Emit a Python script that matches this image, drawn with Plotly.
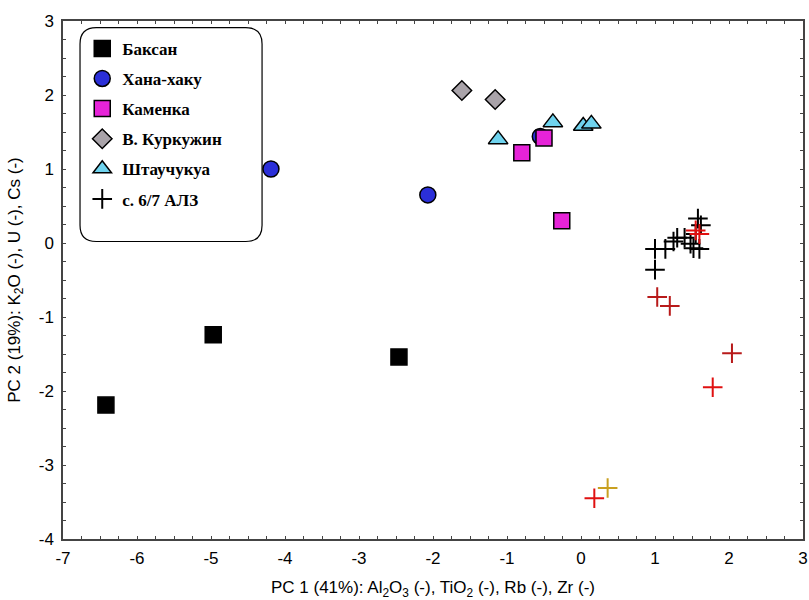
import plotly.graph_objects as go

# ---- data ----
baksan_x = [-6.42, -4.97, -2.46]
baksan_y = [-2.19, -1.24, -1.54]

khana_x = [-4.19, -2.07, -0.55]
khana_y = [1.00, 0.65, 1.44]

kamenka_x = [-0.80, -0.50, -0.26]
kamenka_y = [1.22, 1.42, 0.30]

kurk_x = [-1.61, -1.16]
kurk_y = [2.06, 1.94]

shtau_x = [-1.12, -0.38, 0.03, 0.14]
shtau_y = [1.40, 1.63, 1.58, 1.61]

alz_x = [1.00, 1.00, 1.14, 1.25, 1.30, 1.40, 1.48, 1.52, 1.58, 1.62, 1.55, 1.60]
alz_y = [-0.08, -0.36, -0.08, 0.02, 0.07, 0.07, -0.01, -0.07, 0.33, 0.24, 0.12, -0.08]

red_x = [1.55, 1.60, 1.78, 0.18]
red_y = [0.17, 0.12, -1.95, -3.45]

dred_x = [1.03, 1.20, 2.04]
dred_y = [-0.73, -0.85, -1.49]

gold_x = [0.36]
gold_y = [-3.31]

x_ticks = [-7, -6, -5, -4, -3, -2, -1, 0, 1, 2, 3]
x_tick_labels = ["-7", "-6", "-5", "-4", "-3", "-2", "-1", "0", "1", "2", "3"]
y_ticks = [-4, -3, -2, -1, 0, 1, 2, 3]
y_tick_labels = ["-4", "-3", "-2", "-1", "0", "1", "2", "3"]

fig = go.Figure()

def add(name, xs, ys, symbol, color, size, lw=1.5, lc="black", show=True):
    fig.add_trace(go.Scatter(
        x=xs, y=ys, mode="markers", name=name, showlegend=show,
        legendgroup=name,
        marker=dict(symbol=symbol, color=color, size=size,
                    line=dict(color=lc, width=lw)),
    ))

add("Баксан", baksan_x, baksan_y, "square", "black", 16)
add("Хана-хаку", khana_x, khana_y, "circle", "#2b2fd8", 16)
add("Каменка", kamenka_x, kamenka_y, "square", "#e623d8", 16)
add("В. Куркужин", kurk_x, kurk_y, "diamond", "#a9a3a9", 15)
add("Штаучукуа", shtau_x, shtau_y, "triangle-up", "#6fd3ee", 17)
add("с. 6/7 АЛЗ", alz_x, alz_y, "cross-thin", "black", 14, lw=2, lc="black")
add("red", red_x, red_y, "cross-thin", "#e01010", 14, lw=2, lc="#e01010", show=False)
add("dred", dred_x, dred_y, "cross-thin", "#b81a1a", 14, lw=2, lc="#b81a1a", show=False)
add("gold", gold_x, gold_y, "cross-thin", "#c9a020", 14, lw=2, lc="#c9a020", show=False)

# rounded legend frame
x0, x1, y0, y1 = -6.77, -4.31, 0.02, 2.91
rx, ry = 0.22, 0.22
path = (f"M {x0+rx},{y1} L {x1-rx},{y1} Q {x1},{y1} {x1},{y1-ry} "
        f"L {x1},{y0+ry} Q {x1},{y0} {x1-rx},{y0} L {x0+rx},{y0} "
        f"Q {x0},{y0} {x0},{y0+ry} L {x0},{y1-ry} Q {x0},{y1} {x0+rx},{y1} Z")
fig.add_shape(type="path", path=path, xref="x", yref="y",
              line=dict(color="black", width=1.2), fillcolor="white", layer="below")

axis_common = dict(
    showgrid=False, zeroline=False, showline=True, linecolor="#444", linewidth=1.5,
    mirror="allticks", ticks="inside", ticklen=3, tickcolor="#444",
    tickfont=dict(family="Liberation Sans, Arial", size=17, color="black"),
    minor=dict(ticks="inside", ticklen=3, tickcolor="#444", dtick=0.25),
    automargin=False,
)

fig.update_xaxes(range=[-7, 3], tickvals=x_ticks, ticktext=x_tick_labels, **axis_common,
                 ticklabelstandoff=3,
                 title=dict(text="PC 1 (41%): Al<sub>2</sub>O<sub>3</sub> (-), TiO<sub>2</sub> (-), Rb (-), Zr (-)",
                            font=dict(family="Liberation Sans, Arial", size=17, color="black"),
                            standoff=21))
fig.update_yaxes(range=[-4, 3], tickvals=y_ticks, ticktext=y_tick_labels, **axis_common,
                 ticklabelstandoff=4,
                 title=dict(text="PC 2 (19%): K<sub>2</sub>O (-), U (-), Cs (-)",
                            font=dict(family="Liberation Sans, Arial", size=17, color="black"),
                            standoff=14))

fig.update_layout(
    width=809, height=600,
    margin=dict(l=63, r=6, t=21, b=61),
    plot_bgcolor="white", paper_bgcolor="white",
    showlegend=True,
    legend=dict(x=0.026, y=0.981, xanchor="left", yanchor="top",
                bgcolor="rgba(0,0,0,0)", borderwidth=0,
                tracegroupgap=5,
                font=dict(family="Liberation Serif, Times New Roman", size=17, color="black",
                          weight="bold")),
)

# remove the browser's default 8px body margin so the figure fills the window
fig.write_html("out.html", config={"displayModeBar": False},
               post_script="document.body.style.margin='0';document.body.style.overflow='hidden';")
